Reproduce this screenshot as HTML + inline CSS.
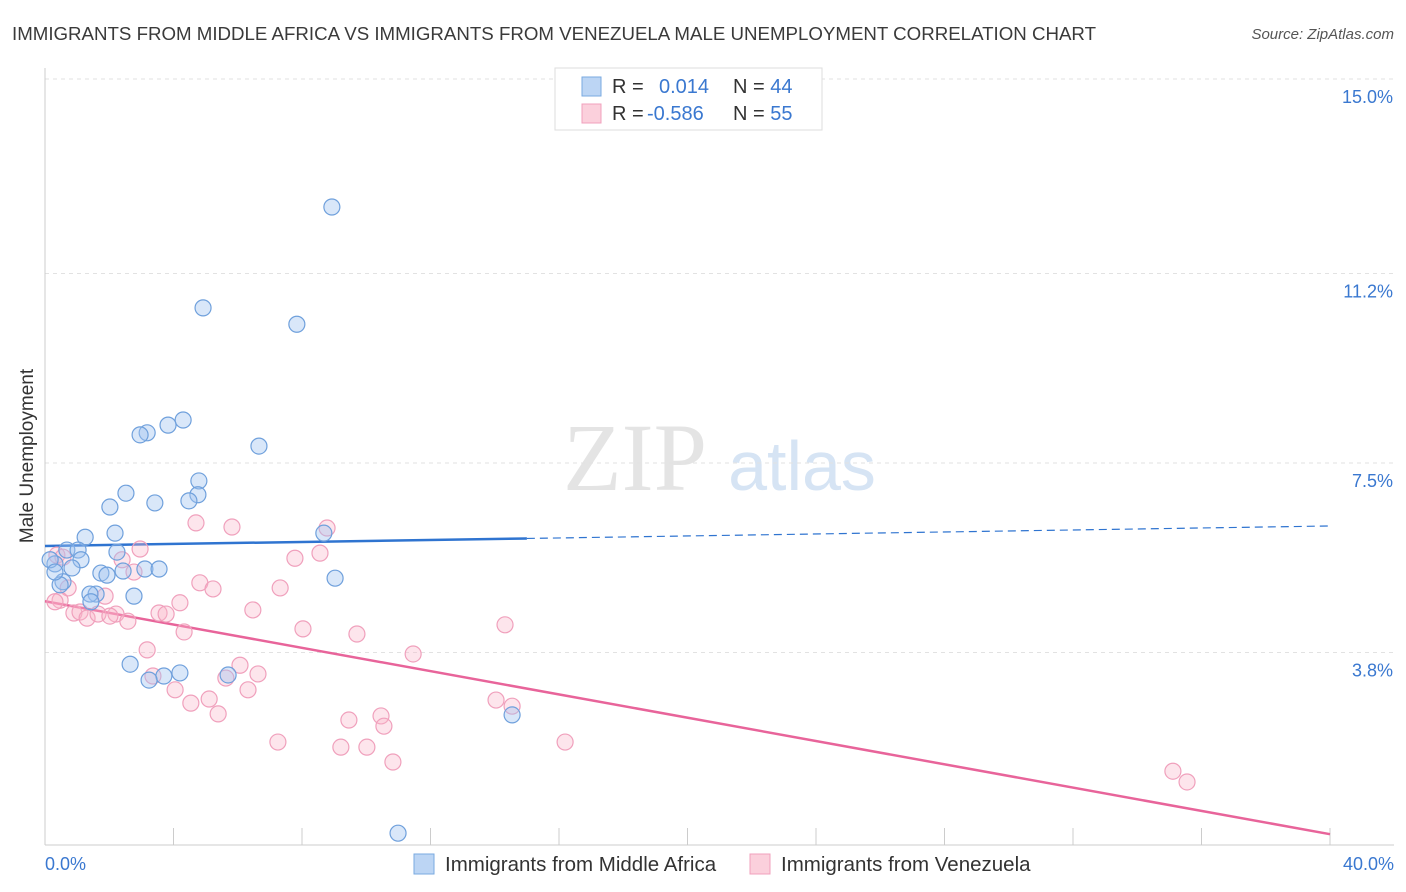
<!DOCTYPE html>
<html><head><meta charset="utf-8">
<style>
body{margin:0;background:#fff;font-family:"Liberation Sans",sans-serif;}
#wrap{position:relative;width:1406px;height:892px;overflow:hidden;}
</style></head>
<body>
<div id="wrap">
<svg id="chart" width="1406" height="892">
<text x="12" y="40" font-size="18.7" fill="#3a3a3a">IMMIGRANTS FROM MIDDLE AFRICA VS IMMIGRANTS FROM VENEZUELA MALE UNEMPLOYMENT CORRELATION CHART</text>
<text x="1394" y="39" font-size="15" fill="#555" text-anchor="end" font-style="italic">Source: ZipAtlas.com</text>
<text x="33" y="456" font-size="19" fill="#333" text-anchor="middle" transform="rotate(-90 33 456)">Male Unemployment</text>
<g>
<text x="635" y="490" font-size="96" fill="#e4e4e4" text-anchor="middle" font-family="Liberation Serif,serif">ZIP</text>
<text x="802" y="490" font-size="70" fill="#d6e4f4" text-anchor="middle">atlas</text>
</g>
<g id="grid"></g><g id="axes"></g><g id="trend"></g><g id="pts"></g>
<g>
<rect x="555" y="68" width="267" height="62" fill="#fff" stroke="#ddd"/>
<rect x="582" y="77" width="19" height="19" fill="#bcd5f4" stroke="#7aaae0"/>
<rect x="582" y="104" width="19" height="19" fill="#fbd0dc" stroke="#f0a0bc"/>
<text x="612" y="93" font-size="20" fill="#333">R = <tspan x="659" fill="#3a78d0">0.014</tspan><tspan x="733" fill="#333">N = </tspan><tspan fill="#3a78d0">44</tspan></text>
<text x="612" y="120" font-size="20" fill="#333">R = <tspan x="647" fill="#3a78d0">-0.586</tspan><tspan x="733" fill="#333">N = </tspan><tspan fill="#3a78d0">55</tspan></text>
</g>
<g>
<rect x="414" y="854" width="20" height="20" fill="#bcd5f4" stroke="#7aaae0"/>
<text x="445" y="871" font-size="20.5" fill="#333">Immigrants from Middle Africa</text>
<rect x="750" y="854" width="20" height="20" fill="#fbd0dc" stroke="#f0a0bc"/>
<text x="781" y="871" font-size="20.5" fill="#333">Immigrants from Venezuela</text>
</g>
</svg>
</div>
<script>
const blueX=[8.93,4.92,7.84,4.30,3.83,3.18,2.96,6.66,4.79,2.52,4.76,4.48,3.42,2.02,1.25,2.18,8.68,0.68,1.03,2.24,1.12,0.31,0.84,3.11,3.55,2.43,1.74,1.93,9.03,0.56,0.47,1.59,1.40,2.77,1.43,2.65,4.20,3.70,3.24,5.70,14.54,10.99,0.16,0.31];
const blueY=[12.5,10.53,10.21,8.34,8.24,8.09,8.05,7.83,7.15,6.91,6.88,6.76,6.72,6.64,6.05,6.13,6.13,5.80,5.80,5.76,5.61,5.53,5.45,5.43,5.43,5.39,5.35,5.31,5.25,5.18,5.12,4.94,4.94,4.90,4.79,3.57,3.40,3.34,3.26,3.36,2.58,0.27,5.61,5.37];
const pinkX=[0.37,2.96,8.78,5.82,4.70,8.56,7.78,2.40,2.77,4.82,5.23,7.32,0.72,0.47,1.87,4.20,0.31,6.47,0.90,1.09,1.31,1.65,2.21,2.02,2.58,3.55,3.77,14.32,8.03,9.71,4.33,3.18,11.46,6.07,6.63,3.36,5.63,4.05,6.32,14.04,14.54,4.54,5.11,5.39,10.46,9.46,10.55,7.25,16.19,9.21,10.02,10.83,35.11,35.55,0.56];
const pinkY=[5.70,5.82,6.23,6.25,6.33,5.74,5.64,5.61,5.37,5.16,5.04,5.06,5.06,4.82,4.90,4.77,4.79,4.63,4.57,4.59,4.47,4.55,4.55,4.51,4.41,4.57,4.55,4.34,4.26,4.16,4.20,3.85,3.77,3.55,3.38,3.34,3.30,3.07,3.07,2.87,2.75,2.81,2.89,2.60,2.56,2.48,2.36,2.05,2.05,1.95,1.95,1.66,1.48,1.27,5.66];
const blueTrend=[5.88,6.27]; // value at x=0 and x=40
const pinkTrend=[4.80,0.25];
const yTicks=[15.0,11.2,7.5,3.8];
const yTickLabels=["15.0%","11.2%","7.5%","3.8%"];
const xTicks=[0,4,8,12,16,20,24,28,32,36,40];

const NS="http://www.w3.org/2000/svg";
const X=v=>45+v*32.125, Y=v=>847-v*51.2;
function mk(tag,attrs,parent){const e=document.createElementNS(NS,tag);for(const k in attrs)e.setAttribute(k,attrs[k]);document.getElementById(parent).appendChild(e);return e;}
yTicks.forEach((t,i)=>{
 const l=mk('line',{x1:45,x2:1394,y1:Y(t),y2:Y(t),stroke:'#e2e2e2','stroke-dasharray':'4 4'},'grid');
 
 
 const tx=mk('text',{x:1393,y:Y(t)+24,'font-size':18,fill:'#3a78d0','text-anchor':'end'},'grid');
 tx.textContent=yTickLabels[i];
 
 
});
const ax=mk('line',{x1:45,x2:45,y1:68,y2:845,stroke:'#ccc'},'axes');


const bx=mk('line',{x1:45,x2:1394,y1:845,y2:845,stroke:'#ccc'},'axes');


xTicks.forEach(t=>{
 const l=mk('line',{x1:X(t),x2:X(t),y1:828,y2:845,stroke:'#ccc'},'axes');
 
 
});
const xl0=mk('text',{x:45,y:870,'font-size':18,fill:'#3a78d0'},'axes');xl0.textContent='0.0%';


const xl1=mk('text',{x:1394,y:870,'font-size':18,fill:'#3a78d0','text-anchor':'end'},'axes');xl1.textContent='40.0%';



function drawPts(xs,ys,fill,stroke,name){xs.forEach((x,i)=>{
 const c=mk('circle',{cx:X(x),cy:Y(ys[i]),r:8,fill:fill,stroke:stroke,'stroke-width':1.2},'pts');
 
 
});}
drawPts(pinkX,pinkY,'rgba(248,180,200,0.35)','#f0a0bc','venezuela-point');
drawPts(blueX,blueY,'rgba(160,196,240,0.4)','#6fa0dc','middle-africa-point');

const bAt=x=>blueTrend[0]+(blueTrend[1]-blueTrend[0])*x/40;
const t1=mk('line',{x1:X(0),y1:Y(bAt(0)),x2:X(15),y2:Y(bAt(15)),stroke:'#2f74d0','stroke-width':2.5},'trend');


const t2=mk('line',{x1:X(15),y1:Y(bAt(15)),x2:X(40),y2:Y(bAt(40)),stroke:'#2f74d0','stroke-width':1.2,'stroke-dasharray':'8 5'},'trend');


const t3=mk('line',{x1:X(0),y1:Y(pinkTrend[0]),x2:X(40),y2:Y(pinkTrend[1]),stroke:'#e8649a','stroke-width':2.5},'trend');


</script>
</body></html>
